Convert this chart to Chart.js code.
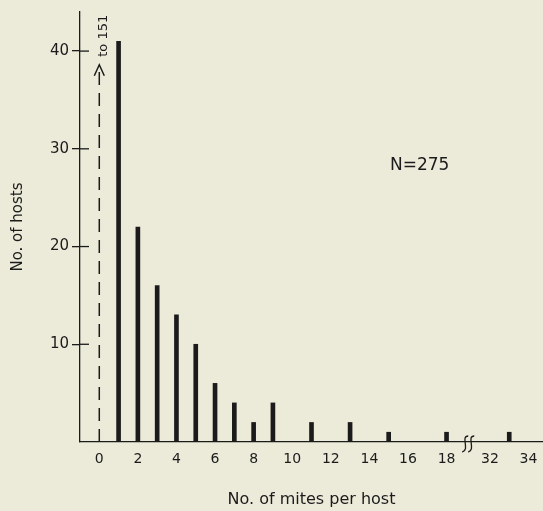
<!DOCTYPE html>
<html>
<head>
<meta charset="utf-8">
<script src="https://cdn.jsdelivr.net/npm/chart.js@4/dist/chart.umd.min.js"></script>
<style>
  html, body { margin: 0; padding: 0; background: #ecebda; }
  #wrap { width: 543px; height: 511px; }
</style>
</head>
<body>
<div id="wrap"><canvas id="c"></canvas></div>
<script>
// data
var mites = [1, 2, 3, 4, 5, 6, 7, 8, 9, 11, 13, 15, 18, 33];
var hosts = [41, 22, 16, 13, 10, 6, 4, 2, 4, 2, 2, 1, 1, 1];
var zeroHosts = 151;   // off the scale, shown as dashed arrow
var totalN = 275;
var xTickValues = [0, 2, 4, 6, 8, 10, 12, 14, 16, 18, 32, 34];
var yTickValues = [10, 20, 30, 40];

// broken x axis: 18 ... 32
var breakFrom = 18, breakTo = 32, breakGap = 2.25;
function pos(v) {
  return v > breakFrom ? v - (breakTo - breakFrom) + breakGap : v;
}

var ink = "#1b1b1b";
var font = "'DejaVu Sans', sans-serif";

var points = mites.map(function(m, i) { return { x: pos(m), y: hosts[i] }; });

var decor = {
  id: "decor",
  afterDraw: function(chart) {
    var ctx = chart.ctx, xs = chart.scales.x, ys = chart.scales.y;
    ctx.save();
    ctx.strokeStyle = ink;
    ctx.fillStyle = ink;
    ctx.lineWidth = 1.3;
    // inner half of the y ticks
    yTickValues.forEach(function(v) {
      var py = ys.getPixelForValue(v);
      ctx.beginPath();
      ctx.moveTo(xs.left, py);
      ctx.lineTo(xs.left + 9, py);
      ctx.stroke();
    });
    // arrow head on the dashed line at 0
    var x0 = xs.getPixelForValue(0);
    var top = ys.getPixelForValue(38.6);
    ctx.lineWidth = 1.5;
    ctx.beginPath();
    ctx.moveTo(x0 - 5, top + 11);
    ctx.lineTo(x0, top);
    ctx.lineTo(x0 + 5, top + 11);
    ctx.stroke();
    // "to 151"
    ctx.save();
    ctx.translate(x0 + 4, top - 8);
    ctx.rotate(-Math.PI / 2);
    ctx.font = "13px " + font;
    ctx.textAlign = "left";
    ctx.textBaseline = "middle";
    ctx.fillText("to " + zeroHosts, 0, 0);
    ctx.restore();
    // axis break squiggle
    var bx = xs.getPixelForValue((breakFrom + pos(breakTo)) / 2);
    var by = ys.getPixelForValue(0);
    ctx.lineWidth = 1.3;
    [-3, 3].forEach(function(dx) {
      ctx.beginPath();
      ctx.moveTo(bx + dx + 3, by - 6);
      ctx.bezierCurveTo(bx + dx - 5, by - 6, bx + dx + 5, by + 8, bx + dx - 3, by + 10);
      ctx.stroke();
    });
    // N label
    ctx.font = "17px " + font;
    ctx.textAlign = "left";
    ctx.textBaseline = "middle";
    ctx.fillText("N=" + totalN, 390, 166);
    ctx.restore();
  }
};

new Chart(document.getElementById("c"), {
  type: "bar",
  data: {
    datasets: [
      {
        type: "bar",
        data: points,
        backgroundColor: ink,
        barThickness: 4
      },
      {
        type: "line",
        data: [{ x: 0, y: 0 }, { x: 0, y: 38.6 }],
        borderColor: ink,
        borderWidth: 1.5,
        borderDash: [13, 8],
        pointRadius: 0
      }
    ]
  },
  options: {
    responsive: true,
    maintainAspectRatio: false,
    animation: false,
    layout: { padding: { top: 10, right: 0, left: 0, bottom: 0 } },
    plugins: { legend: { display: false }, tooltip: { enabled: false } },
    scales: {
      x: {
        type: "linear",
        offset: false,
        min: -1,
        max: 23,
        afterBuildTicks: function(scale) {
          scale.ticks = xTickValues.map(function(v) { return { value: pos(v) }; });
        },
        afterFit: function(scale) {
          scale.height = 69;
          scale.paddingRight = 0;   // let the axis run to the edge
        },
        ticks: {
          autoSkip: false,
          maxRotation: 0,
          color: ink,
          font: { family: font, size: 14 },
          padding: 9,
          callback: function(value, index) { return String(xTickValues[index]); }
        },
        grid: { display: true, drawOnChartArea: false, drawTicks: false, color: "rgba(0,0,0,0)" },
        border: { display: true, color: ink, width: 1.3 },
        title: {
          display: true,
          text: "No. of mites per host",
          color: ink,
          font: { family: font, size: 16 },
          padding: { top: 0, bottom: 2 }
        }
      },
      y: {
        min: 0,
        max: 44,
        afterBuildTicks: function(scale) {
          scale.ticks = yTickValues.map(function(v) { return { value: v }; });
        },
        afterFit: function(scale) { scale.width = 80; },
        ticks: {
          color: ink,
          font: { family: font, size: 15 },
          padding: 3
        },
        grid: { drawOnChartArea: false, drawTicks: true, tickLength: 8, color: ink, lineWidth: 1.3 },
        border: { display: true, color: ink, width: 1.3 },
        title: {
          display: true,
          text: "No. of hosts",
          color: ink,
          font: { family: font, size: 15 },
          padding: { top: 9, bottom: 0 }
        }
      }
    }
  },
  plugins: [decor]
});
</script>
</body>
</html>
